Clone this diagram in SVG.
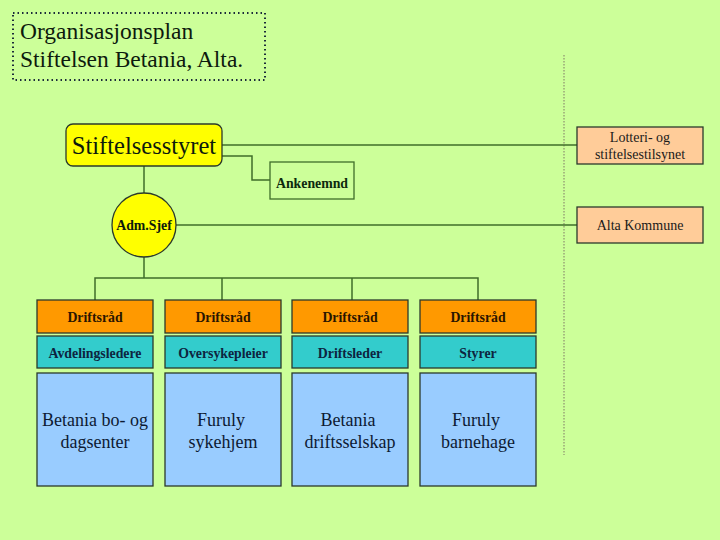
<svg xmlns="http://www.w3.org/2000/svg" width="720" height="540" viewBox="0 0 720 540">
<style>
text{font-family:"Liberation Serif","Times New Roman",serif;}
.b{font-weight:bold;}
.c{text-anchor:middle;}
.box{stroke:#2b3a2b;stroke-width:1.3;}
.conn{fill:none;stroke:#3f6e2a;stroke-width:1.5;}
.orange{fill:#ff9900;}
.teal{fill:#33cccc;}
.blue{fill:#99ccff;}
.peach{fill:#ffcc99;}
</style>
<rect width="720" height="540" fill="#ccff99"/>

<g id="title">
<rect x="13" y="13" width="252" height="67" fill="none" stroke="#1a2a3a" stroke-width="2" stroke-dasharray="1.5 3"/>
<text x="20" y="39" font-size="23.5" fill="#0d1a0d">Organisasjonsplan</text>
<text x="20" y="67" font-size="23.5" fill="#0d1a0d">Stiftelsen Betania, Alta.</text>
</g>

<g id="divider">
<line x1="564" y1="55" x2="564" y2="455" stroke="#99a577" stroke-width="1.5" stroke-dasharray="1.5 1.5"/>
</g>

<g id="connectors">
<line class="conn" x1="222" y1="145" x2="577" y2="145"/>
<polyline class="conn" points="222,156 252,156 252,180 270,180"/>
<line class="conn" x1="144" y1="166" x2="144" y2="193"/>
<line class="conn" x1="176" y1="225" x2="577" y2="225"/>
<line class="conn" x1="144" y1="257" x2="144" y2="278"/>
<polyline class="conn" points="95,300 95,278 478,278 478,300"/>
<line class="conn" x1="222" y1="278" x2="222" y2="300"/>
<line class="conn" x1="352" y1="278" x2="352" y2="300"/>
</g>

<g id="stiftelsesstyret">
<rect x="66" y="124" width="156" height="42" rx="7" fill="#ffff00" class="box"/>
<text class="c" x="144" y="154" font-size="24.5" fill="#0d1a0d">Stiftelsesstyret</text>
</g>

<g id="ankenemnd">
<rect x="270" y="162" width="84" height="37" fill="#ccff99" stroke="#3f6e2a" stroke-width="1.3"/>
<text class="b c" x="312" y="188" font-size="13.8" fill="#0d2a0d">Ankenemnd</text>
</g>

<g id="admsjef">
<circle cx="144" cy="225" r="32" fill="#ffff00" class="box"/>
<text class="b c" x="144" y="230" font-size="13.8" fill="#0d1a0d">Adm.Sjef</text>
</g>

<g id="lotteri">
<rect x="577" y="127" width="126" height="37" class="peach box"/>
<text class="c" x="640" y="142" font-size="14" fill="#1a1a1a">Lotteri- og</text>
<text class="c" x="640" y="159" font-size="14" fill="#1a1a1a">stiftelsestilsynet</text>
</g>

<g id="alta-kommune">
<rect x="577" y="207" width="126" height="36" class="peach box"/>
<text class="c" x="640" y="230" font-size="14" fill="#1a1a1a">Alta Kommune</text>
</g>

<g id="col1">
<rect x="37" y="300" width="116" height="33" class="orange box"/>
<text class="b c" x="95" y="322" font-size="13.8" fill="#2a1500">Driftsråd</text>
<rect x="37" y="336" width="116" height="32" class="teal box"/>
<text class="b c" x="95" y="358" font-size="13.8" fill="#0d2440">Avdelingsledere</text>
<rect x="37" y="373" width="116" height="113" class="blue box"/>
<text class="c" x="95" y="426" font-size="18" fill="#0d1a33">Betania bo- og</text>
<text class="c" x="95" y="448" font-size="18" fill="#0d1a33">dagsenter</text>
</g>

<g id="col2">
<rect x="165" y="300" width="116" height="33" class="orange box"/>
<text class="b c" x="223" y="322" font-size="13.8" fill="#2a1500">Driftsråd</text>
<rect x="165" y="336" width="116" height="32" class="teal box"/>
<text class="b c" x="223" y="358" font-size="13.8" fill="#0d2440">Oversykepleier</text>
<rect x="165" y="373" width="116" height="113" class="blue box"/>
<text class="c" x="221" y="426" font-size="18" fill="#0d1a33">Furuly</text>
<text class="c" x="223" y="448" font-size="18" fill="#0d1a33">sykehjem</text>
</g>

<g id="col3">
<rect x="292" y="300" width="116" height="33" class="orange box"/>
<text class="b c" x="350" y="322" font-size="13.8" fill="#2a1500">Driftsråd</text>
<rect x="292" y="336" width="116" height="32" class="teal box"/>
<text class="b c" x="350" y="358" font-size="13.8" fill="#0d2440">Driftsleder</text>
<rect x="292" y="373" width="116" height="113" class="blue box"/>
<text class="c" x="348" y="426" font-size="18" fill="#0d1a33">Betania</text>
<text class="c" x="350" y="448" font-size="18" fill="#0d1a33">driftsselskap</text>
</g>

<g id="col4">
<rect x="420" y="300" width="116" height="33" class="orange box"/>
<text class="b c" x="478" y="322" font-size="13.8" fill="#2a1500">Driftsråd</text>
<rect x="420" y="336" width="116" height="32" class="teal box"/>
<text class="b c" x="478" y="358" font-size="13.8" fill="#0d2440">Styrer</text>
<rect x="420" y="373" width="116" height="113" class="blue box"/>
<text class="c" x="476" y="426" font-size="18" fill="#0d1a33">Furuly</text>
<text class="c" x="478" y="448" font-size="18" fill="#0d1a33">barnehage</text>
</g>
</svg>
